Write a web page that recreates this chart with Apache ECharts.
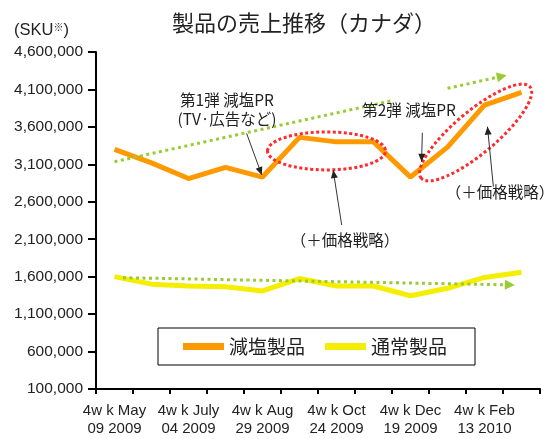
<!DOCTYPE html>
<html>
<head>
<meta charset="utf-8">
<script src="https://cdn.jsdelivr.net/npm/echarts@6/dist/echarts.min.js"></script>
<style>
html, body { margin: 0; padding: 0; background: #fff; }
#chart { width: 557px; height: 439px; }
</style>
</head>
<body>
<div id="chart"></div>
<script>
// 製品の売上推移（カナダ） 4週ごと
var periods = [
  '4w k May\n09 2009', '4w k Jun\n06 2009', '4w k July\n04 2009', '4w k Aug\n01 2009',
  '4w k Aug\n29 2009', '4w k Sep\n26 2009', '4w k Oct\n24 2009', '4w k Nov\n21 2009',
  '4w k Dec\n19 2009', '4w k Jan\n16 2010', '4w k Feb\n13 2010', '4w k Mar\n13 2010'
];
var reducedSalt = [3300000, 3120000, 2910000, 3060000, 2930000, 3460000, 3400000, 3400000, 2930000, 3330000, 3890000, 4060000];
var regular = [1600000, 1500000, 1475000, 1465000, 1410000, 1575000, 1475000, 1475000, 1345000, 1445000, 1590000, 1660000];
var yMin = 100000, yMax = 4600000, yStep = 500000;

// 注釈 (カテゴリ位置, 値)
var trendUp = [[[0, 3135000], [7.5, 3950000]], [[9.0, 4115000], [10.6, 4290000]]];
var trendFlat = [[0.23, 1586000], [10.82, 1489000]];
var ovals = [[5.73, 3279000], [9.76, 3525000]];
var pointers = [
  [[3.57, 3514000], [3.98, 2958000]],
  [[8.32, 3522000], [8.30, 3135000]],
  [[6.14, 2290000], [5.91, 3024000]],
  [[10.24, 2801000], [10.08, 3602000]]
];
var notes = [
  ['第1弾 減塩PR', 3.04, 3959000],
  ['(TV·広告など)', 3.04, 3705000],
  ['第2弾 減塩PR', 7.96, 3825000],
  ['（＋価格戦略）', 10.42, 2731000],
  ['（＋価格戦略）', 6.23, 2090000]
];

var latin = '"Liberation Sans", Arial, sans-serif';
var jp = '"Noto Sans CJK JP", sans-serif';

var chart = echarts.init(document.getElementById('chart'));
chart.setOption({
  animation: false,
  title: {
    text: '製品の売上推移（カナダ）',
    left: 172,
    top: 12,
    padding: 0,
    textStyle: { fontSize: 22, fontWeight: 'normal', color: '#222', fontFamily: jp }
  },
  legend: {
    data: ['減塩製品', '通常製品'],
    left: 158,
    top: 328,
    icon: 'rect',
    itemWidth: 41,
    itemHeight: 7,
    itemGap: 20,
    borderColor: '#000',
    borderWidth: 1,
    borderRadius: 0,
    padding: [9, 28, 9, 25],
    textStyle: { fontSize: 19, color: '#222', fontFamily: jp }
  },
  grid: { left: 96, right: 17, top: 52, bottom: 50, containLabel: false, outerBoundsMode: 'none' },
  xAxis: {
    type: 'category',
    data: periods,
    boundaryGap: true,
    axisLine: { lineStyle: { color: '#000', width: 2 } },
    axisTick: { show: true, interval: 0, length: 5, lineStyle: { color: '#000', width: 2 } },
    axisLabel: { interval: 1, fontSize: 15, color: '#222', fontFamily: latin, lineHeight: 18, margin: 13 }
  },
  yAxis: {
    type: 'value',
    min: yMin,
    max: yMax,
    interval: yStep,
    axisLine: { show: true, lineStyle: { color: '#000', width: 2 } },
    axisTick: { show: true, length: 8, lineStyle: { color: '#000', width: 2 } },
    splitLine: { show: false },
    axisLabel: {
      fontSize: 15.5,
      color: '#222',
      fontFamily: latin,
      margin: 13,
      formatter: function (v) { return v.toLocaleString('en-US'); }
    }
  },
  series: [
    {
      name: '減塩製品',
      type: 'line',
      data: reducedSalt,
      symbol: 'none',
      color: '#FF9900',
      lineStyle: { width: 5, color: '#FF9900' }
    },
    {
      name: '通常製品',
      type: 'line',
      data: regular,
      symbol: 'none',
      color: '#F5EE00',
      lineStyle: { width: 5, color: '#F5EE00' }
    }
  ]
});

// 注釈を描く
var x0 = chart.convertToPixel({ xAxisIndex: 0 }, 0);
var x11 = chart.convertToPixel({ xAxisIndex: 0 }, 11);
function px(i) { return x0 + i * (x11 - x0) / 11; }
function py(v) { return chart.convertToPixel({ yAxisIndex: 0 }, v); }

function head(a, b, len, half, color) {
  var ang = Math.atan2(b[1] - a[1], b[0] - a[0]);
  var c = Math.cos(ang), s = Math.sin(ang);
  var bx = b[0] - len * c, by = b[1] - len * s;
  return {
    type: 'polygon', z: 12,
    shape: { points: [[b[0], b[1]], [bx + half * s, by - half * c], [bx - half * s, by + half * c]] },
    style: { fill: color }
  };
}
function seg(a, b, style) {
  return { type: 'line', z: 11, shape: { x1: a[0], y1: a[1], x2: b[0], y2: b[1] }, style: style };
}
function pt(d) { return [px(d[0]), py(d[1])]; }

var green = '#99CC33';
var dotG = { stroke: green, lineWidth: 3, lineDash: [3, 3.5] };
var els = [];

// 上昇トレンド
var u1 = trendUp[0], u2 = trendUp[1];
els.push(seg(pt(u1[0]), pt(u1[1]), dotG));
var ua = pt(u2[0]), ub = pt(u2[1]);
var ul = Math.hypot(ub[0] - ua[0], ub[1] - ua[1]);
var ubase = [ub[0] - (ub[0] - ua[0]) * 9 / ul, ub[1] - (ub[1] - ua[1]) * 9 / ul];
els.push(seg(ua, ubase, dotG));
els.push(head(ua, ub, 10, 5, green));

// 横ばいトレンド
var fa = pt(trendFlat[0]), fb = pt(trendFlat[1]);
var fl = Math.hypot(fb[0] - fa[0], fb[1] - fa[1]);
var fbase = [fb[0] - (fb[0] - fa[0]) * 9 / fl, fb[1] - (fb[1] - fa[1]) * 9 / fl];
els.push(seg(fa, fbase, dotG));
els.push(head(fa, fb, 10, 5, green));

// 赤い点線の楕円
var ovalSize = [[59, 19, 0], [71, 21, 40]];
ovals.forEach(function (o, i) {
  var c = pt(o);
  els.push({
    type: 'ellipse', z: 11,
    x: c[0], y: c[1],
    rotation: ovalSize[i][2] * Math.PI / 180,
    shape: { cx: 0, cy: 0, rx: ovalSize[i][0], ry: ovalSize[i][1] },
    style: { fill: 'none', stroke: '#FF2A2A', lineWidth: 3, lineDash: [3, 2.5] }
  });
});

// 黒い矢印
pointers.forEach(function (p) {
  var a = pt(p[0]), b = pt(p[1]);
  els.push(seg(a, b, { stroke: '#333', lineWidth: 1 }));
  els.push(head(a, b, 8, 3.5, '#222'));
});

// テキスト
notes.forEach(function (n) {
  els.push({
    type: 'text', z: 13,
    x: px(n[1]), y: py(n[2]),
    style: { text: n[0], fontSize: 15.5, fontFamily: jp, fill: '#222', align: 'center', verticalAlign: 'middle' }
  });
});

els.push({
  type: 'text', z: 13, x: 14, y: 30,
  style: {
    text: '(SKU{s|※})', fontSize: 16.5, fontFamily: latin, fill: '#222', verticalAlign: 'middle',
    rich: { s: { fontSize: 10, fontFamily: jp, fill: '#222', padding: [0, 0, 6, 0] } }
  }
});

chart.setOption({ graphic: els });
</script>
</body>
</html>
